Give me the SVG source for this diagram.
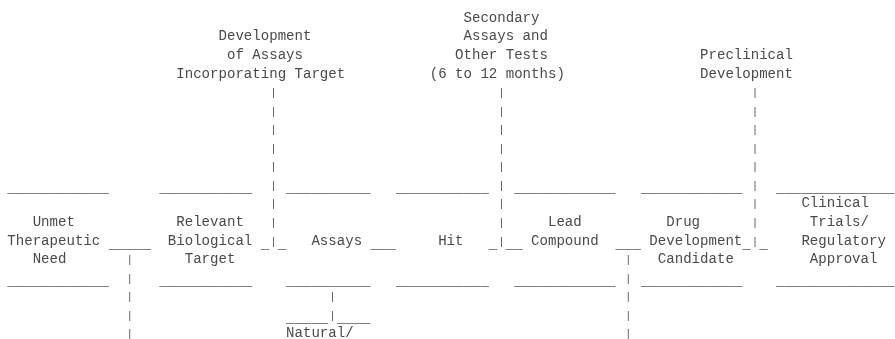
<svg xmlns="http://www.w3.org/2000/svg" width="895" height="339" viewBox="0 0 895 339" xml:space="preserve">
<style>
text{font-family:"Liberation Mono","Courier New",monospace;font-size:14.08px;fill:#4a4a4a;white-space:pre}
text.p{font-size:10px}
</style>
<defs>
<filter id="gray" x="0" y="0" width="100%" height="100%" filterUnits="userSpaceOnUse">
<feColorMatrix type="saturate" values="0"/>
</filter>
</defs>
<rect width="895" height="339" fill="#ffffff"/>
<g filter="url(#gray)">
<g id="label-development-of-assays">
<text x="218.50" y="40.45">Development</text>
<text x="226.95" y="59.0">of Assays</text>
<text x="176.26" y="77.55">Incorporating Target</text>
</g>
<g id="label-secondary-assays">
<text x="463.49" y="21.9">Secondary</text>
<text x="463.49" y="40.45">Assays and</text>
<text x="455.04" y="59.0">Other Tests</text>
<text x="429.70" y="77.55">(6 to 12 months)</text>
</g>
<g id="label-preclinical">
<text x="700.04" y="59.0">Preclinical</text>
<text x="700.04" y="77.55">Development</text>
</g>
<g id="node-unmet-need">
<text x="7.30" y="192.15">____________</text>
<text x="32.64" y="225.95">Unmet</text>
<text x="7.30" y="244.5">Therapeutic</text>
<text x="32.64" y="263.05">Need</text>
<text x="7.30" y="284.9">____________</text>
</g>
<g id="node-biological-target">
<text x="159.36" y="192.15">___________</text>
<text x="176.26" y="225.95">Relevant</text>
<text x="167.81" y="244.5">Biological</text>
<text x="184.71" y="263.05">Target</text>
<text x="159.36" y="284.9">___________</text>
</g>
<g id="node-assays">
<text x="286.08" y="192.15">__________</text>
<text x="311.43" y="244.5">Assays</text>
<text x="286.08" y="284.9">__________</text>
</g>
<g id="node-hit">
<text x="395.91" y="192.15">___________</text>
<text x="438.15" y="244.5">Hit</text>
<text x="395.91" y="284.9">___________</text>
</g>
<g id="node-lead-compound">
<text x="514.18" y="192.15">____________</text>
<text x="547.97" y="225.95">Lead</text>
<text x="531.08" y="244.5">Compound</text>
<text x="514.18" y="284.9">____________</text>
</g>
<g id="node-drug-candidate">
<text x="640.90" y="192.15">____________</text>
<text x="666.24" y="225.95">Drug</text>
<text x="649.35" y="244.5">Development</text>
<text x="657.80" y="263.05">Candidate</text>
<text x="640.90" y="284.9">____________</text>
</g>
<g id="node-clinical-trials">
<text x="776.07" y="192.15">______________</text>
<text x="801.41" y="207.4">Clinical</text>
<text x="809.86" y="225.95">Trials/</text>
<text x="801.41" y="244.5">Regulatory</text>
<text x="809.86" y="263.05">Approval</text>
<text x="776.07" y="284.9">______________</text>
</g>
<g id="node-natural">
<text x="286.08" y="336.5">Natural/</text>
</g>
<g id="connectors">
<text class="p" x="270.41" y="96.1">|</text>
<text class="p" x="270.41" y="114.65">|</text>
<text class="p" x="270.41" y="133.2">|</text>
<text class="p" x="270.41" y="151.75">|</text>
<text class="p" x="270.41" y="170.3">|</text>
<text class="p" x="270.41" y="188.85">|</text>
<text class="p" x="270.41" y="207.4">|</text>
<text class="p" x="270.41" y="225.95">|</text>
<text class="p" x="270.41" y="244.5">|</text>
<text x="260.74" y="247.8">_</text>
<text x="277.64" y="247.8">_</text>
<text class="p" x="498.50" y="96.1">|</text>
<text class="p" x="498.50" y="114.65">|</text>
<text class="p" x="498.50" y="133.2">|</text>
<text class="p" x="498.50" y="151.75">|</text>
<text class="p" x="498.50" y="170.3">|</text>
<text class="p" x="498.50" y="188.85">|</text>
<text class="p" x="498.50" y="207.4">|</text>
<text class="p" x="498.50" y="225.95">|</text>
<text class="p" x="498.50" y="244.5">|</text>
<text x="488.84" y="247.8">_</text>
<text x="505.73" y="247.8">__</text>
<text class="p" x="751.94" y="96.1">|</text>
<text class="p" x="751.94" y="114.65">|</text>
<text class="p" x="751.94" y="133.2">|</text>
<text class="p" x="751.94" y="151.75">|</text>
<text class="p" x="751.94" y="170.3">|</text>
<text class="p" x="751.94" y="188.85">|</text>
<text class="p" x="751.94" y="207.4">|</text>
<text class="p" x="751.94" y="225.95">|</text>
<text class="p" x="751.94" y="244.5">|</text>
<text x="742.28" y="247.8">_</text>
<text x="759.17" y="247.8">_</text>
<text x="108.68" y="247.8">_____</text>
<text class="p" x="126.79" y="263.05">|</text>
<text class="p" x="126.79" y="281.6">|</text>
<text class="p" x="126.79" y="300.15">|</text>
<text class="p" x="126.79" y="318.7">|</text>
<text class="p" x="126.79" y="337.25">|</text>
<text x="370.56" y="247.8">___</text>
<text class="p" x="329.54" y="300.15">|</text>
<text x="286.08" y="322.0">_____</text>
<text class="p" x="329.54" y="318.7">|</text>
<text x="336.77" y="322.0">____</text>
<text x="615.56" y="247.8">___</text>
<text class="p" x="625.22" y="263.05">|</text>
<text class="p" x="625.22" y="281.6">|</text>
<text class="p" x="625.22" y="300.15">|</text>
<text class="p" x="625.22" y="318.7">|</text>
<text class="p" x="625.22" y="337.25">|</text>
</g>
</g>
</svg>
